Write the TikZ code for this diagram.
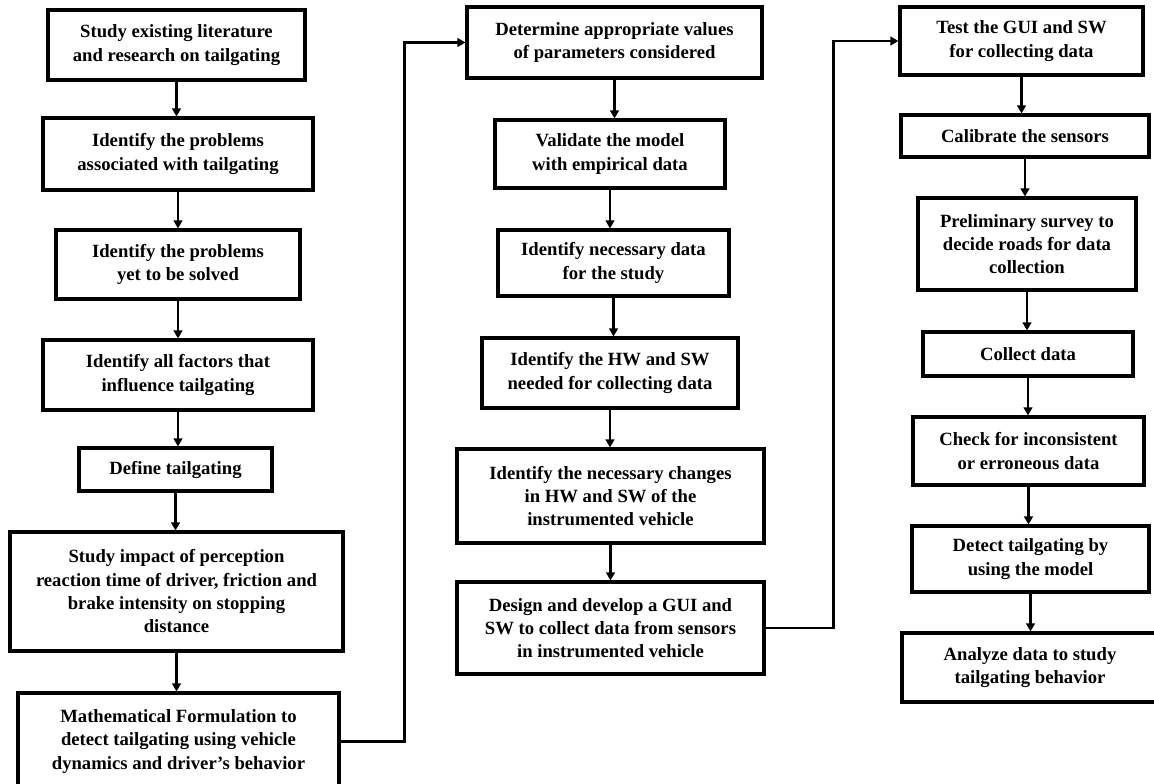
\documentclass[tikz,border=0pt]{standalone}
\usepackage{fontspec}
\setmainfont{Liberation Serif}
\usetikzlibrary{arrows.meta}
% one process step: name, centre x, centre y, width, height (all in px), text
\newcommand\stepnode[6]{%
  \node[stepbox, minimum width=0.75*#4pt, minimum height=0.75*#5pt] (#1) at (#2,#3) {#6};}
\begin{document}
\begin{tikzpicture}[x=0.75pt,y=-0.75pt,
  stepbox/.style={draw, line width=2.3pt, rectangle, align=center, inner sep=0pt,
    font=\bfseries\fontsize{14}{17.5}\selectfont},
  flow/.style={line width=2.1pt, -{Triangle[length=6pt,width=6.5pt]}}]
\useasboundingbox (0,0) rectangle (1154,784);
\clip (0,0) rectangle (1154,784);

% first column
\stepnode{b1}{176.5}{45}{257}{70}{Study existing literature\\and research on tailgating}
\stepnode{b2}{178}{154}{270}{72}{Identify the problems\\associated with tailgating}
\stepnode{b3}{178}{264.5}{244}{69}{Identify the problems\\yet to be solved}
\stepnode{b4}{178}{375}{270}{70}{Identify all factors that\\influence tailgating}
\stepnode{b5}{175.5}{469.5}{193}{43}{Define tailgating}
\stepnode{b6}{176.5}{591.5}{333}{119}{Study impact of perception\\reaction time of driver, friction and\\brake intensity on stopping\\distance}
\stepnode{b7}{178.5}{741.5}{321}{97}{Mathematical Formulation to\\detect tailgating using vehicle\\dynamics and driver's behavior}

% second column
\stepnode{b8}{614.5}{42.5}{295}{71}{Determine appropriate values\\of parameters considered}
\stepnode{b9}{610}{154}{230}{68}{Validate the model\\with empirical data}
\stepnode{b10}{613.5}{263}{231}{66}{Identify necessary data\\for the study}
\stepnode{b11}{610}{373}{256}{70}{Identify the HW and SW\\needed for collecting data}
\stepnode{b12}{610.5}{496}{307}{94}{Identify the necessary changes\\in HW and SW of the\\instrumented vehicle}
\stepnode{b13}{610.5}{628}{307}{92}{Design and develop a GUI and\\SW to collect data from sensors\\in instrumented vehicle}

% third column
\stepnode{b14}{1021.5}{41}{243}{68}{Test the GUI and SW\\for collecting data}
\stepnode{b15}{1025}{136}{248}{42}{Calibrate the sensors}
\stepnode{b16}{1027}{244}{218}{92}{Preliminary survey to\\decide roads for data\\collection}
\stepnode{b17}{1028}{354}{210}{44}{Collect data}
\stepnode{b18}{1028.5}{451}{231}{68}{Check for inconsistent\\or erroneous data}
\stepnode{b19}{1030.5}{559}{237}{66}{Detect tailgating by\\using the model}
\stepnode{b20}{1030}{667.5}{256}{69}{Analyze data to study\\tailgating behavior}

% connectors down each column
\foreach \a/\b in {b1/b2,b2/b3,b3/b4,b4/b5,b5/b6,b6/b7,
                   b8/b9,b9/b10,b10/b11,b11/b12,b12/b13,
                   b14/b15,b15/b16,b16/b17,b17/b18,b18/b19,b19/b20}
  \draw[flow] (\a.south) -- (\a.south |- \b.north);

% connectors between columns
\draw[flow] (b7.east) -- ++(64,0) |- (b8.west);
\draw[flow] (b13.east) -- ++(68,0) |- (b14.west);
\end{tikzpicture}
\end{document}
